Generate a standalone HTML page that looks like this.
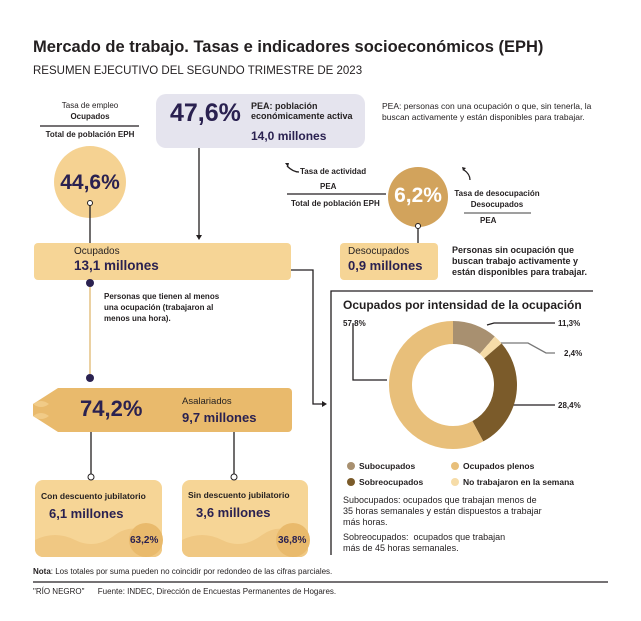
<!DOCTYPE html>
<html><head><meta charset="utf-8"><style>
*{margin:0;padding:0;box-sizing:border-box}
body{width:641px;height:621px;background:#fff;font-family:"Liberation Sans",sans-serif;color:#231f20;position:relative;overflow:hidden}
.a{position:absolute;white-space:nowrap}
.navy{color:#2a2150}
.b{font-weight:bold}
</style></head><body>
<svg class="a" style="left:0;top:0" width="641" height="621">
 <rect x="156" y="94" width="209" height="54" rx="10" fill="#e5e4ee"/>
 <circle cx="90" cy="182" r="36" fill="#f5d292"/>
 <circle cx="418" cy="197" r="30" fill="#d2a35c"/>
 <rect x="34" y="243" width="257" height="37" rx="4" fill="#f6d596"/>
 <rect x="340" y="243" width="98" height="37" rx="4" fill="#f6d596"/>
 <path d="M58 388 H288 a4 4 0 0 1 4 4 V428 a4 4 0 0 1 -4 4 H58 L33 416 V404 Z" fill="#e9ba6c"/>
 <path d="M33 404 q8 -6 16 0 q-8 6 -16 0 M33 416 q8 -6 16 0 q-8 6 -16 0" fill="#f1cb87"/>
 <rect x="35" y="480" width="127" height="77" rx="8" fill="#f6d596"/>
 <rect x="182" y="480" width="126" height="77" rx="8" fill="#f6d596"/>
 <path d="M35 540 q20 -10 40 0 t40 -5 t47 5 V549 a8 8 0 0 1 -8 8 H43 a8 8 0 0 1 -8 -8Z" fill="#f0c883"/>
 <path d="M182 540 q20 -10 40 0 t40 -5 t46 5 V549 a8 8 0 0 1 -8 8 H190 a8 8 0 0 1 -8 -8Z" fill="#f0c883"/>
 <circle cx="146" cy="540" r="17" fill="#e9ba6c"/>
 <circle cx="293" cy="540" r="17" fill="#e9ba6c"/>
 <g stroke="#231f20" stroke-width="1.3" fill="none">
  <line x1="40" y1="126" x2="139" y2="126"/>
  <line x1="287" y1="194" x2="386" y2="194"/>
  <line x1="464" y1="213" x2="531" y2="213" stroke="#666"/>
  <line x1="90" y1="205" x2="90" y2="243"/>
  <line x1="199" y1="148" x2="199" y2="235"/>
  <line x1="418" y1="227" x2="418" y2="243"/>
  <polyline points="291,270 313,270 313,404 324,404"/>
  <polyline points="331,555 331,291 593,291"/>
  <line x1="91" y1="432" x2="91" y2="474"/>
  <line x1="234" y1="432" x2="234" y2="474"/>
  <line x1="33" y1="582" x2="608" y2="582"/>
  <path d="M299 172 q-6 0 -12 -6 M470 180 q0 -6 -6 -10"/>
  <polyline points="487,325 494,323 555,323"/>
  <polyline points="487,343 528,343 546,353 555,353" stroke="#777"/>
  <polyline points="498,405 555,405"/>
  <polyline points="353,323 353,380 387,380"/>
 </g>
 <path d="M199 240 l-3 -5 h6z M327 404 l-5 -3 v6z M285 163 l4 0 l-1 4z M462 167 l4 1 l-3 3z" fill="#231f20"/>
 <line x1="90" y1="283" x2="90" y2="378" stroke="#e0b870" stroke-width="1.3"/>
 <circle cx="90" cy="283" r="4" fill="#2a2150"/><circle cx="90" cy="378" r="4" fill="#2a2150"/>
 <circle cx="90" cy="203" r="2.5" fill="#fff" stroke="#231f20"/>
 <circle cx="418" cy="226" r="2.5" fill="#fff" stroke="#231f20"/>
 <circle cx="91" cy="477" r="3" fill="#fff" stroke="#231f20"/>
 <circle cx="234" cy="477" r="3" fill="#fff" stroke="#231f20"/>
 <g transform="rotate(-90 453 385)" fill="none" stroke-width="23">
  <circle cx="453" cy="385" r="52.5" stroke="#a89070" stroke-dasharray="37.3 329.9"/>
  <circle cx="453" cy="385" r="52.5" stroke="#f6dca8" stroke-dasharray="7.9 329.9" stroke-dashoffset="-37.3"/>
  <circle cx="453" cy="385" r="52.5" stroke="#7b5b2a" stroke-dasharray="93.7 329.9" stroke-dashoffset="-45.2"/>
  <circle cx="453" cy="385" r="52.5" stroke="#e8bf7a" stroke-dasharray="190.7 329.9" stroke-dashoffset="-138.9"/>
 </g>
 <circle cx="351" cy="466" r="4" fill="#a89070"/><circle cx="351" cy="482" r="4" fill="#7b5b2a"/>
 <circle cx="455" cy="466" r="4" fill="#e8bf7a"/><circle cx="455" cy="482" r="4" fill="#f6dca8"/>
</svg>

<div class="a b" style="left:33px;top:38px;font-size:16.5px">Mercado de trabajo. Tasas e indicadores socioeconómicos (EPH)</div>
<div class="a" style="left:33px;top:65px;font-size:11.5px">RESUMEN EJECUTIVO DEL SEGUNDO TRIMESTRE DE 2023</div>

<div class="a" style="left:40px;width:100px;text-align:center;top:100px;font-size:8px;line-height:11px">Tasa de empleo<br><b>Ocupados</b></div>
<div class="a b" style="left:40px;width:100px;text-align:center;top:130px;font-size:8px">Total de población EPH</div>
<div class="a b navy" style="left:54px;width:72px;text-align:center;top:171px;font-size:21px">44,6%</div>

<div class="a b navy" style="left:170px;top:99px;font-size:25px">47,6%</div>
<div class="a b" style="left:251px;top:101px;font-size:9px;line-height:10px">PEA: población<br>económicamente activa</div>
<div class="a b navy" style="left:251px;top:129px;font-size:12px">14,0 millones</div>
<div class="a" style="left:382px;top:101px;font-size:8.5px;line-height:11px">PEA: personas con una ocupación o que, sin tenerla, la<br>buscan activamente y están disponibles para trabajar.</div>

<div class="a b" style="left:300px;top:167px;font-size:8px">Tasa de actividad</div>
<div class="a b" style="left:320px;top:182px;font-size:8px">PEA</div>
<div class="a b" style="left:291px;top:199px;font-size:8px">Total de población EPH</div>
<div class="a b" style="left:390px;width:56px;text-align:center;top:184px;font-size:21px;color:#fff">6,2%</div>
<div class="a b" style="left:452px;width:90px;text-align:center;top:188px;font-size:8px;line-height:11px">Tasa de desocupación<br>Desocupados</div>
<div class="a b" style="left:480px;top:216px;font-size:8px">PEA</div>

<div class="a" style="left:74px;top:246px;font-size:10px">Ocupados</div>
<div class="a b navy" style="left:74px;top:258px;font-size:13.5px">13,1 millones</div>
<div class="a" style="left:348px;top:246px;font-size:10px">Desocupados</div>
<div class="a b navy" style="left:348px;top:258px;font-size:13px">0,9 millones</div>
<div class="a b" style="left:452px;top:245px;font-size:9px;line-height:11px">Personas sin ocupación que<br>buscan trabajo activamente y<br>están disponibles para trabajar.</div>

<div class="a b" style="left:104px;top:291px;font-size:8px;line-height:11px">Personas que tienen al menos<br>una ocupación (trabajaron al<br>menos una hora).</div>

<div class="a b navy" style="left:80px;top:396px;font-size:22px">74,2%</div>
<div class="a" style="left:182px;top:396px;font-size:9.5px">Asalariados</div>
<div class="a b navy" style="left:182px;top:410px;font-size:13px">9,7 millones</div>

<div class="a b" style="left:41px;top:491px;font-size:8.5px">Con descuento jubilatorio</div>
<div class="a b navy" style="left:49px;top:506px;font-size:13px">6,1 millones</div>
<div class="a b" style="left:188px;top:490px;font-size:8.5px">Sin descuento jubilatorio</div>
<div class="a b navy" style="left:196px;top:505px;font-size:13px">3,6 millones</div>
<div class="a b navy" style="left:130px;top:535px;font-size:10px">63,2%</div>
<div class="a b navy" style="left:278px;top:535px;font-size:10px">36,8%</div>

<div class="a b" style="left:343px;top:298px;font-size:12px">Ocupados por intensidad de la ocupación</div>
<div class="a b" style="left:343px;top:319px;font-size:8px">57,8%</div>
<div class="a b" style="left:558px;top:319px;font-size:8px">11,3%</div>
<div class="a b" style="left:564px;top:349px;font-size:8px">2,4%</div>
<div class="a b" style="left:558px;top:401px;font-size:8px">28,4%</div>
<div class="a b" style="left:359px;top:461px;font-size:8.5px">Subocupados</div>
<div class="a b" style="left:359px;top:477px;font-size:8.5px">Sobreocupados</div>
<div class="a b" style="left:463px;top:461px;font-size:8.5px">Ocupados plenos</div>
<div class="a b" style="left:463px;top:477px;font-size:8.5px">No trabajaron en la semana</div>
<div class="a" style="left:343px;top:495px;font-size:9px;line-height:11px">Subocupados: ocupados que trabajan menos de<br>35 horas semanales y están dispuestos a trabajar<br>más horas.</div>
<div class="a" style="left:343px;top:532px;font-size:9px;line-height:11px">Sobreocupados:&nbsp; ocupados que trabajan<br>más de 45 horas semanales.</div>

<div class="a" style="left:33px;top:567px;font-size:8px"><b>Nota</b>: Los totales por suma pueden no coincidir por redondeo de las cifras parciales.</div>
<div class="a" style="left:33px;top:587px;font-size:8px">"RÍO NEGRO"&nbsp;&nbsp;&nbsp;&nbsp;&nbsp;&nbsp;Fuente: INDEC, Dirección de Encuestas Permanentes de Hogares.</div>
</body></html>
